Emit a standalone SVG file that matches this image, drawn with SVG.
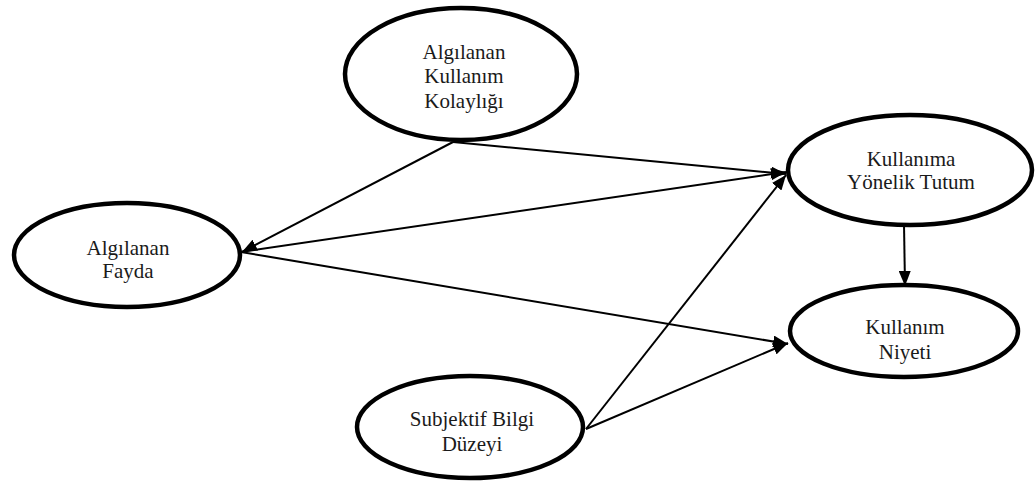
<svg xmlns="http://www.w3.org/2000/svg" width="1036" height="482" viewBox="0 0 1036 482">
  <defs>
    <marker id="arrow" markerUnits="userSpaceOnUse" markerWidth="16" markerHeight="12" refX="15" refY="6" orient="auto">
      <path d="M0,0 L15,6 L0,12 Z" fill="#000"/>
    </marker>
    <style>
      .node ellipse { fill: #fff; stroke: #000; stroke-width: 4.5; }
      .node text { fill: #1a1a1a; text-anchor: middle; }
      .edges line { stroke: #000; stroke-width: 2; marker-end: url(#arrow); }
    </style>
  </defs>
  <rect width="1036" height="482" fill="#fff"/>

  <g class="edges" id="connectors">
    <line x1="453" y1="142" x2="242" y2="252"/>
    <line x1="453" y1="142" x2="786" y2="174"/>
    <line x1="241" y1="252" x2="786" y2="172"/>
    <line x1="241" y1="252" x2="788" y2="344"/>
    <line x1="586" y1="429" x2="786" y2="175"/>
    <line x1="586" y1="429" x2="788" y2="343"/>
    <line x1="904" y1="224" x2="905" y2="286"/>
  </g>

  <g font-family="'Liberation Serif', 'Times New Roman', serif" font-size="21">
    <g class="node" id="node-kolaylik">
      <ellipse cx="461" cy="74" rx="116" ry="66"/>
      <text x="464" y="59">Algılanan</text>
      <text x="464" y="83">Kullanım</text>
      <text x="464" y="108">Kolaylığı</text>
    </g>

    <g class="node" id="node-fayda">
      <ellipse cx="127" cy="255" rx="113" ry="52"/>
      <text x="128" y="255">Algılanan</text>
      <text x="128" y="278">Fayda</text>
    </g>

    <g class="node" id="node-tutum">
      <ellipse cx="910" cy="170" rx="122" ry="55"/>
      <text x="911" y="166">Kullanıma</text>
      <text x="911" y="189">Yönelik Tutum</text>
    </g>

    <g class="node" id="node-niyet">
      <ellipse cx="904" cy="331" rx="114" ry="46"/>
      <text x="905" y="334">Kullanım</text>
      <text x="905" y="359">Niyeti</text>
    </g>

    <g class="node" id="node-bilgi">
      <ellipse cx="470" cy="427" rx="113" ry="51"/>
      <text x="472" y="426">Subjektif Bilgi</text>
      <text x="472" y="451">Düzeyi</text>
    </g>
  </g>
</svg>
